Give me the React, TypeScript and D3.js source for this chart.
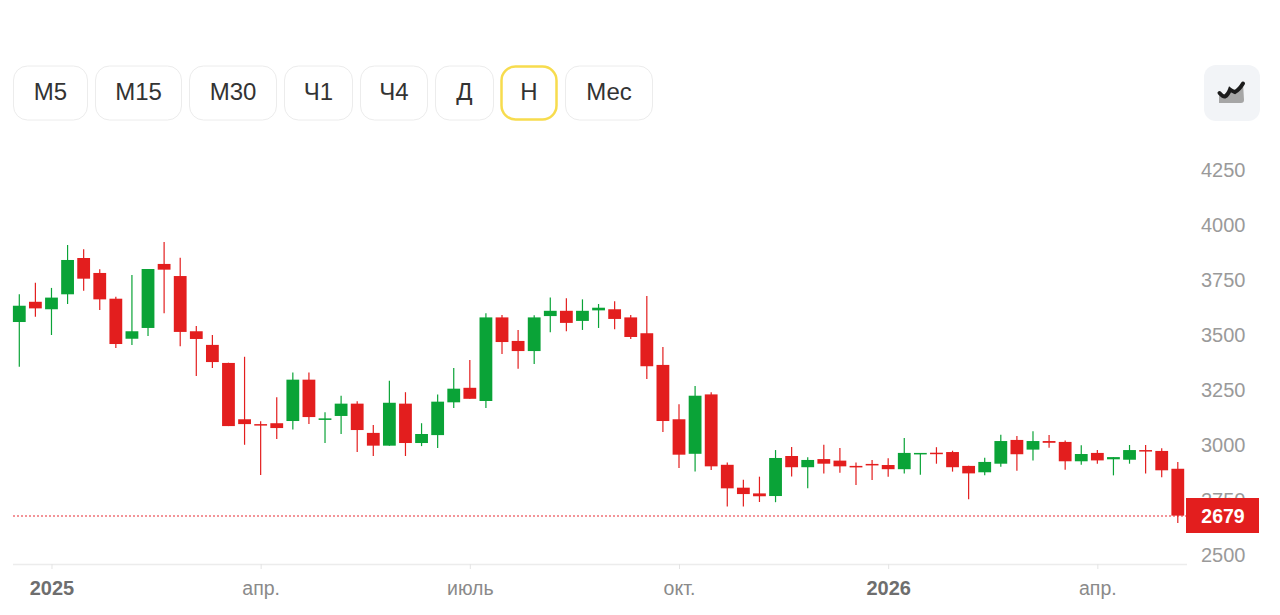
import { useEffect, useRef } from 'react';
import * as d3 from 'd3';

const WIDTH = 1280;
const HEIGHT = 615;

const GREEN = '#0aa337';
const RED = '#e31e1e';

// weekly candles, values
const opens = [
  3559, 3651, 3617, 3685, 3850, 3782, 3665, 3483, 3532, 3823, 3768, 3517, 3455, 3373, 3117, 3095, 3099, 3109, 3297,
  3114, 3132, 3188, 3055, 2997, 3188, 3009, 3045, 3194, 3260, 3200, 3580, 3473, 3427, 3586, 3610, 3564, 3612, 3617,
  3580, 3508, 3364, 3117, 2960, 3230, 2910, 2806, 2780, 2768, 2950, 2899, 2936, 2929, 2905, 2914, 2909, 2890, 2959,
  2965, 2968, 2905, 2876, 2915, 3023, 2979, 3018, 3014, 2926, 2964, 2935, 2933, 2977, 2973, 2892,
];
const highs = [
  3685, 3738, 3714, 3909, 3890, 3799, 3674, 3773, 3800, 3923, 3851, 3541, 3500, 3374, 3401, 3108, 3217, 3329, 3329,
  3149, 3224, 3199, 3091, 3292, 3240, 3099, 3230, 3350, 3386, 3599, 3591, 3523, 3590, 3671, 3667, 3662, 3641, 3653,
  3591, 3677, 3445, 3185, 3268, 3240, 2920, 2842, 2856, 2977, 2991, 2944, 3001, 2986, 2920, 2932, 2940, 3032, 2964,
  2990, 2974, 2906, 2942, 3047, 3041, 3062, 3045, 3021, 2999, 2977, 2945, 3000, 3000, 2985, 2923,
];
const lows = [
  3356, 3583, 3500, 3641, 3701, 3614, 3441, 3455, 3495, 3599, 3449, 3314, 3350, 3086, 3001, 2864, 3027, 3071, 3095,
  3009, 3050, 2968, 2950, 2997, 2950, 2995, 2986, 3168, 3210, 3168, 3414, 3347, 3368, 3512, 3517, 3523, 3532, 3526,
  3482, 3300, 3059, 2895, 2879, 2886, 2721, 2721, 2741, 2740, 2857, 2803, 2871, 2874, 2818, 2841, 2856, 2870, 2865,
  2915, 2879, 2753, 2862, 2901, 2883, 2929, 2988, 2888, 2910, 2915, 2862, 2915, 2871, 2853, 2645,
];
const closes = [
  3633, 3621, 3670, 3841, 3756, 3662, 3459, 3517, 3800, 3797, 3514, 3482, 3377, 3086, 3095, 3092, 3077, 3297, 3127,
  3121, 3188, 3068, 2997, 3192, 3009, 3050, 3197, 3256, 3210, 3580, 3468, 3427, 3580, 3610, 3555, 3610, 3624, 3573,
  3491, 3358, 3109, 2956, 3224, 2903, 2803, 2777, 2767, 2941, 2899, 2932, 2915, 2903, 2899, 2908, 2890, 2964, 2964,
  2960, 2899, 2871, 2923, 3018, 2958, 3018, 3010, 2926, 2959, 2930, 2945, 2977, 2971, 2885, 2679,
];

const priceTicks = [2500, 2750, 3000, 3250, 3500, 3750, 4000, 4250];
const dateTickIndex = [2, 15, 28, 41, 54, 67];
const dateTickLabels = ['2025', 'апр.', 'июль', 'окт.', '2026', 'апр.'];
const boldDateLabels = ['2025', '2026'];
const lastPrice = 2679;

const periodLabels = ['М5', 'М15', 'М30', 'Ч1', 'Ч4', 'Д', 'Н', 'Мес'];
const periodLeft = [13, 95, 189, 284, 360, 435, 501, 565];
const periodRight = [88, 182, 277, 353, 428, 494, 557, 653];
const activePeriod = 'Н';

const FONT = '"Liberation Sans", Arial, sans-serif';

export default function App() {
  const svgRef = useRef<SVGSVGElement>(null);

  useEffect(() => {
    if (!svgRef.current) return;
    const svg = d3.select(svgRef.current);
    svg.selectAll('*').remove();

    const y = d3.scaleLinear().domain([2500, 4250]).range([555, 170]);
    const x = d3
      .scalePoint<number>()
      .domain(d3.range(closes.length))
      .range([19.3, 1177.8]);
    const bodyWidth = 12.8;

    // period buttons
    const buttons = svg
      .append('g')
      .selectAll('g')
      .data(periodLabels)
      .join('g');
    buttons
      .append('rect')
      .attr('x', (_, i) => periodLeft[i] + 0.5)
      .attr('y', (d) => (d === activePeriod ? 66.5 : 66))
      .attr('width', (_, i) => periodRight[i] - periodLeft[i] - 1)
      .attr('height', (d) => (d === activePeriod ? 53 : 54))
      .attr('rx', 14)
      .attr('fill', '#fff')
      .attr('stroke', (d) => (d === activePeriod ? '#f7dc4e' : '#ececec'))
      .attr('stroke-width', (d) => (d === activePeriod ? 2.5 : 1));
    buttons
      .append('text')
      .attr('x', (_, i) => (periodLeft[i] + periodRight[i]) / 2)
      .attr('y', 100)
      .attr('text-anchor', 'middle')
      .attr('fill', '#333')
      .style('font-family', FONT)
      .style('font-size', '24px')
      .text((d) => d);

    // chart type button
    svg.append('rect').attr('x', 1204).attr('y', 65).attr('width', 56).attr('height', 56).attr('rx', 12).attr('fill', '#f2f4f7');
    svg
      .append('path')
      .attr('d', 'M1219 93 L1223 96 L1230 88 L1235 92 L1243 83 L1244 100 Q1244 103 1241 103 L1219 103 Z')
      .attr('fill', '#a6a6a6');
    svg
      .append('path')
      .attr('d', 'M1219.5 93 Q1223 97 1225 96.5 Q1228 95 1230 89.5 Q1232 91 1235 92 Q1239 90 1243 83.5')
      .attr('fill', 'none')
      .attr('stroke', '#1c1c1c')
      .attr('stroke-width', 4)
      .attr('stroke-linecap', 'round');

    // price axis
    const yAxis = svg
      .append('g')
      .attr('transform', 'translate(1201,0)')
      .call(d3.axisRight(y).tickValues(priceTicks).tickSize(0).tickPadding(0).tickFormat(d3.format('d')));
    yAxis.select('.domain').remove();
    yAxis
      .selectAll('text')
      .attr('fill', '#9a9a9a')
      .style('font-family', FONT)
      .style('font-size', '20px');

    // date axis
    const xAxis = svg
      .append('g')
      .attr('transform', 'translate(0,564)')
      .call(
        d3
          .axisBottom(x)
          .tickValues(dateTickIndex)
          .tickSize(5)
          .tickPadding(12)
          .tickFormat((_, i) => dateTickLabels[i]),
      );
    xAxis.select('.domain').attr('d', 'M13 0.5 H1187').attr('stroke', '#ececec').attr('stroke-width', 1.5);
    xAxis.selectAll('line').attr('stroke', '#e4e4e4');
    xAxis
      .selectAll<SVGTextElement, number>('text')
      .attr('fill', (_, i) => (boldDateLabels.includes(dateTickLabels[i]) ? '#6e6e6e' : '#8a8a8a'))
      .style('font-family', FONT)
      .style('font-size', (_, i) => (boldDateLabels.includes(dateTickLabels[i]) ? '20px' : '19.5px'))
      .style('font-weight', (_, i) => (boldDateLabels.includes(dateTickLabels[i]) ? '700' : '400'));

    // last price line, spread over two pixel rows so it keeps its red
    svg
      .append('line')
      .attr('x1', 13)
      .attr('x2', 1187)
      .attr('y1', Math.round(y(lastPrice)))
      .attr('y2', Math.round(y(lastPrice)))
      .attr('stroke', '#e8343c')
      .attr('stroke-opacity', 0.7)
      .attr('stroke-width', 1.4)
      .attr('stroke-dasharray', '2 2');

    // candles
    const candles = svg
      .append('g')
      .selectAll('g')
      .data(closes.map((_, i) => i))
      .join('g');
    const colorOf = (i: number) => (closes[i] >= opens[i] ? GREEN : RED);
    candles
      .append('line')
      .attr('x1', (i) => x(i)!)
      .attr('x2', (i) => x(i)!)
      .attr('y1', (i) => y(highs[i]))
      .attr('y2', (i) => y(lows[i]))
      .attr('stroke', colorOf)
      .attr('stroke-width', 1.2);
    candles
      .append('rect')
      .attr('x', (i) => x(i)! - bodyWidth / 2)
      .attr('width', bodyWidth)
      .attr('y', (i) => y(Math.max(opens[i], closes[i])))
      .attr('height', (i) => Math.max(1.5, Math.abs(y(opens[i]) - y(closes[i]))))
      .attr('fill', colorOf);

    // last price tag
    svg
      .append('rect')
      .attr('x', 1186)
      .attr('y', 498)
      .attr('width', 73)
      .attr('height', 35)
      .attr('fill', RED);
    svg
      .append('text')
      .attr('x', 1223)
      .attr('y', 522.5)
      .attr('text-anchor', 'middle')
      .attr('fill', '#fff')
      .style('font-family', FONT)
      .style('font-size', '19.5px')
      .style('font-weight', '700')
      .text(String(lastPrice));
  }, []);

  return (
    <svg
      ref={svgRef}
      width={WIDTH}
      height={HEIGHT}
      viewBox={`0 0 ${WIDTH} ${HEIGHT}`}
      style={{ position: 'absolute', left: 0, top: 0, background: '#fff' }}
    />
  );
}
